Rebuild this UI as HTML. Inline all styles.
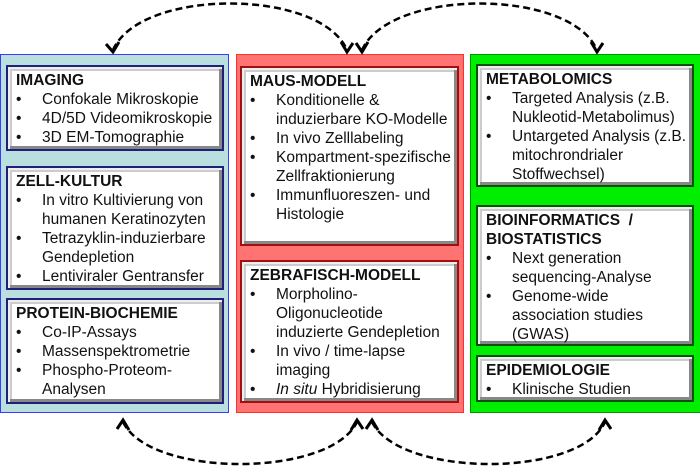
<!DOCTYPE html>
<html><head><meta charset="utf-8"><style>
body{margin:0;width:700px;height:470px;position:relative;background:#fff;overflow:hidden;font-family:"Liberation Sans",sans-serif;}
.p{position:absolute;box-sizing:border-box;}
.b{position:absolute;box-sizing:border-box;background:#fff;border:2px solid;box-shadow:inset 2px 2px 0 #eee,inset -3px -3px 0 #888,inset 4px 4px 0 #ccc;padding:4px 4px 0 8px;font-size:15.5px;line-height:19px;color:#111;white-space:nowrap;}
.b h{display:block;font-weight:bold;font-size:15.5px;line-height:19px;}
.b div{position:relative;padding-left:26px;}
.b div.i::before{content:"•";position:absolute;left:0;top:0;}
</style></head><body>
<div class="p" style="left:0;top:54px;width:229px;height:359px;background:#b9e0df;border:1px solid #3a3aff"></div>
<div class="p" style="left:236px;top:54px;width:228px;height:359px;background:#ff7373;border:1px solid #ff3030"></div>
<div class="p" style="left:470px;top:54px;width:232px;height:359px;background:#00ee00;border:1px solid #009900"></div>

<div class="b" style="left:6px;top:65px;width:218px;height:86px;border-color:#20207a"><h>IMAGING</h><div class="i">Confokale Mikroskopie</div><div class="i">4D/5D Videomikroskopie</div><div class="i">3D EM-Tomographie</div></div>
<div class="b" style="left:6px;top:166px;width:218px;height:124px;border-color:#20207a"><h>ZELL-KULTUR</h><div class="i">In vitro Kultivierung von<br>humanen Keratinozyten</div><div class="i">Tetrazyklin-induzierbare<br>Gendepletion</div><div class="i">Lentiviraler Gentransfer</div></div>
<div class="b" style="left:6px;top:298px;width:218px;height:106px;border-color:#20207a"><h>PROTEIN-BIOCHEMIE</h><div class="i">Co-IP-Assays</div><div class="i">Massenspektrometrie</div><div class="i">Phospho-Proteom-<br>Analysen</div></div>

<div class="b" style="left:240px;top:66px;width:219px;height:180px;border-color:#a01010"><h>MAUS-MODELL</h><div class="i">Konditionelle &amp;<br>induzierbare KO-Modelle</div><div class="i">In vivo Zelllabeling</div><div class="i">Kompartment-spezifische<br>Zellfraktionierung</div><div class="i">Immunfluoreszen- und<br>Histologie</div></div>
<div class="b" style="left:240px;top:260px;width:219px;height:143px;border-color:#a01010"><h>ZEBRAFISCH-MODELL</h><div class="i">Morpholino-<br>Oligonucleotide<br>induzierte Gendepletion</div><div class="i">In vivo / time-lapse<br>imaging</div><div class="i"><i>In situ</i> Hybridisierung</div></div>

<div class="b" style="left:476px;top:64px;width:218px;height:123px;border-color:#0a500a"><h>METABOLOMICS</h><div class="i">Targeted Analysis (z.B.<br>Nukleotid-Metabolimus)</div><div class="i">Untargeted Analysis (z.B.<br>mitochrondrialer<br>Stoffwechsel)</div></div>
<div class="b" style="left:476px;top:205px;width:218px;height:141px;border-color:#0a500a"><h>BIOINFORMATICS&nbsp; /<br>BIOSTATISTICS</h><div class="i">Next generation<br>sequencing-Analyse</div><div class="i">Genome-wide<br>association studies<br>(GWAS)</div></div>
<div class="b" style="left:476px;top:355px;width:218px;height:47px;border-color:#0a500a"><h>EPIDEMIOLOGIE</h><div class="i">Klinische Studien</div></div>

<svg width="700" height="470" style="position:absolute;left:0;top:0" fill="none" stroke="#000" stroke-width="2.5">
<g stroke-dasharray="7,4">
<path d="M113,50 C140,-12 320,-12 347,50"/>
<path d="M362,50 C390,-12 570,-12 597,50"/>
<path d="M123,422 C150,478 330,478 357,422"/>
<path d="M372,422 C400,478 580,478 605,422"/>
</g>
<g stroke-width="3">
<path d="M106,44 L113,52 L119,42"/>
<path d="M341,42 L347,52 L353,43"/>
<path d="M356,43 L362,52 L368,42"/>
<path d="M591,42 L597,52 L603,43"/>
<path d="M117,429 L123,420 L129,430"/>
<path d="M351,430 L357,420 L363,429"/>
<path d="M366,429 L372,420 L378,430"/>
<path d="M599,430 L605,420 L611,429"/>
</g>
</svg>
</body></html>
